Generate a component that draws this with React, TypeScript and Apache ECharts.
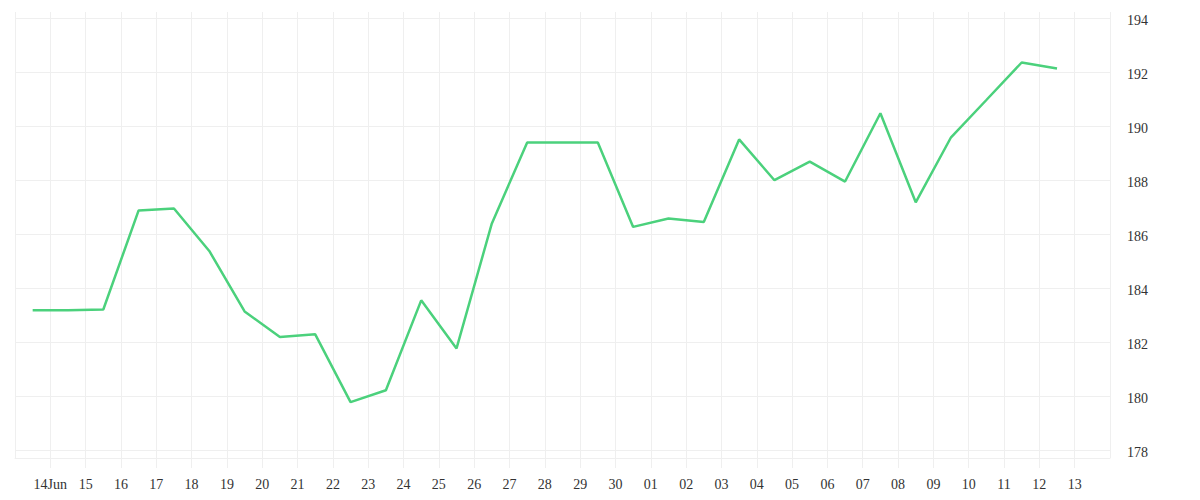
import { useEffect, useRef } from 'react'
import * as echarts from 'echarts'

const DAY = 86400000

// one close per day, 13 Jun .. 12 Jul
const dates = [
  '2024-06-13', '2024-06-14', '2024-06-15', '2024-06-16', '2024-06-17', '2024-06-18',
  '2024-06-19', '2024-06-20', '2024-06-21', '2024-06-22', '2024-06-23', '2024-06-24',
  '2024-06-25', '2024-06-26', '2024-06-27', '2024-06-28', '2024-06-29', '2024-06-30',
  '2024-07-01', '2024-07-02', '2024-07-03', '2024-07-04', '2024-07-05', '2024-07-06',
  '2024-07-07', '2024-07-08', '2024-07-09', '2024-07-10', '2024-07-11', '2024-07-12',
]
const prices = [
  183.19, 183.19, 183.22, 186.89, 186.96, 185.39,
  183.15, 182.2, 182.3, 179.79, 180.23, 183.56,
  181.78, 186.41, 189.41, 189.41, 189.41, 186.28,
  186.59, 186.46, 189.52, 188.01, 188.7, 187.96,
  190.49, 187.19, 189.6, 190.98, 192.37, 192.15,
]
const monthNames = ['Jan', 'Feb', 'Mar', 'Apr', 'May', 'Jun', 'Jul', 'Aug', 'Sep', 'Oct', 'Nov', 'Dec']

const xMin = Date.parse(dates[0])
const xMax = Date.parse(dates[dates.length - 1]) + 2 * DAY
const yMin = 177.72
const yMax = 194.24

const gridColor = '#efefef'
const textColor = '#333'
const font = '"Liberation Serif", "DejaVu Serif", serif'

export default function App() {
  const ref = useRef<HTMLDivElement>(null)

  useEffect(() => {
    document.body.style.margin = '0'
    if (!ref.current) return
    const chart = echarts.init(ref.current, undefined, { renderer: 'svg' })
    chart.setOption({
      animation: false,
      backgroundColor: '#fff',
      grid: { left: 15, right: 90, top: 12, bottom: 42, containLabel: false, outerBoundsMode: 'none' },
      xAxis: {
        type: 'value', min: xMin, max: xMax, interval: DAY,
        axisLine: { show: true, lineStyle: { color: gridColor } },
        axisTick: { show: true, length: 10, lineStyle: { color: gridColor } },
        splitLine: { show: true, lineStyle: { color: gridColor } },
        axisLabel: {
          showMinLabel: false, showMaxLabel: false, margin: 19,
          color: textColor, fontFamily: font, fontSize: 14,
          formatter: (v: number) => {
            const d = new Date(v)
            if (v === xMin + DAY) return d.getUTCDate() + monthNames[d.getUTCMonth()]
            return String(d.getUTCDate()).padStart(2, '0')
          },
        },
      },
      yAxis: {
        type: 'value', position: 'right', min: yMin, max: yMax, minInterval: 2, maxInterval: 2, splitNumber: 8,
        axisLine: { show: false }, axisTick: { show: false },
        splitLine: { show: true, showMinLine: true, showMaxLine: false, lineStyle: { color: gridColor } },
        axisLabel: {
          showMinLabel: false, showMaxLabel: false, margin: 17, verticalAlign: 'top', lineHeight: 4,
          color: textColor, fontFamily: font, fontSize: 14,
        },
      },
      series: [{
        type: 'line',
        data: dates.map((d, i) => [Date.parse(d) + DAY / 2, prices[i]]),
        showSymbol: false,
        lineStyle: { color: '#4bd17c', width: 2.5 },
        itemStyle: { color: '#4bd17c' },
      }],
    })
    return () => chart.dispose()
  }, [])

  return <div ref={ref} style={{ width: 1200, height: 500 }} />
}
